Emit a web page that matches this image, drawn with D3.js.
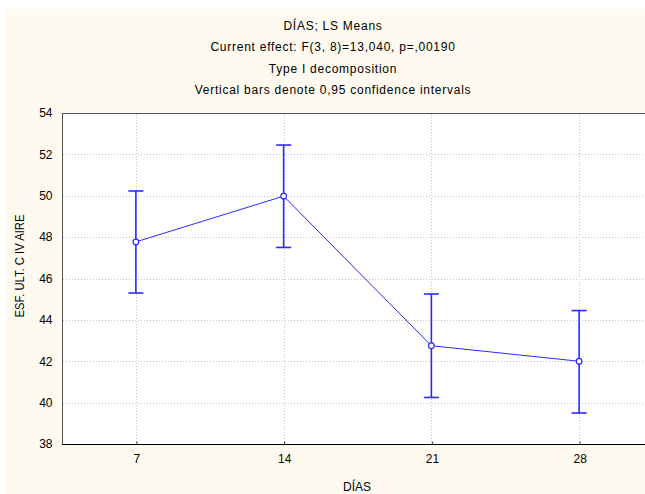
<!DOCTYPE html>
<html>
<head>
<meta charset="utf-8">
<script src="https://cdn.jsdelivr.net/npm/d3@7"></script>
<style>
  html, body { margin: 0; padding: 0; background: #ffffff; }
  svg { display: block; }
  text { font-family: "Liberation Sans", Arial, sans-serif; fill: #000; }
</style>
</head>
<body>
<script>
// LS means of ESF. ULT. C IV AIRE by day, with 0,95 confidence limits
const days = [7, 14, 21, 28];
const means = [47.77, 49.98, 42.75, 42.0];
const lower = [45.3, 47.5, 40.25, 39.5];
const upper = [50.23, 52.45, 45.25, 44.45];
const yTicks = [38, 40, 42, 44, 46, 48, 50, 52, 54];
const titleLines = [
  "DÍAS; LS Means",
  "Current effect: F(3, 8)=13,040, p=,00190",
  "Type I decomposition",
  "Vertical bars denote 0,95 confidence intervals"
];
const xTitle = "DÍAS";
const yTitle = "ESF. ULT. C IV AIRE";

const W = 645, H = 494;
const plot = { left: 62, top: 113, right: 653, bottom: 444 };

const svg = d3.select("body").append("svg")
  .attr("width", W).attr("height", H);

// page background
svg.append("rect").attr("x", 6).attr("y", 9)
  .attr("width", W - 6).attr("height", H - 9)
  .attr("fill", "#fffaef");

const x = d3.scaleLinear().domain([3.5, 31.5]).range([plot.left, plot.right]);
const y = d3.scaleLinear().domain([38, 54]).range([plot.bottom, plot.top]);

// plot area
svg.append("rect")
  .attr("x", plot.left).attr("y", plot.top)
  .attr("width", plot.right - plot.left).attr("height", plot.bottom - plot.top)
  .attr("fill", "#ffffff");

// grid
const grid = svg.append("g").attr("stroke", "#c4c4c4").attr("stroke-dasharray", "1,2").attr("stroke-width", 1);
grid.selectAll("line.h").data(yTicks.slice(1, -1)).join("line")
  .attr("x1", plot.left + 1).attr("x2", plot.right)
  .attr("y1", d => Math.round(y(d)) + 0.5).attr("y2", d => Math.round(y(d)) + 0.5);
grid.selectAll("line.v").data(days).join("line")
  .attr("x1", d => Math.round(x(d)) + 0.5).attr("x2", d => Math.round(x(d)) + 0.5)
  .attr("y1", plot.top + 1).attr("y2", plot.bottom);

// frame
svg.append("rect")
  .attr("x", plot.left + 0.5).attr("y", plot.top + 0.5)
  .attr("width", plot.right - plot.left).attr("height", plot.bottom - plot.top)
  .attr("fill", "none").attr("stroke", "#555555").attr("stroke-width", 1);

// axes
const xAxis = d3.axisBottom(x).tickValues(days).tickSize(-3).tickPadding(10).tickFormat(d3.format("d"));
const gx = svg.append("g").attr("transform", `translate(0.5,${plot.bottom + 0.5})`).call(xAxis);
gx.select(".domain").attr("stroke", "#000").attr("d", `M${plot.left},0H${plot.right}`);
gx.selectAll(".tick line").attr("stroke", "#333");
gx.selectAll(".tick text").attr("font-size", 12).attr("dy", "0.71em");

const yAxis = d3.axisLeft(y).tickValues(yTicks).tickSize(0).tickPadding(10).tickFormat(d3.format("d"));
const gy = svg.append("g").attr("transform", `translate(${plot.left + 0.5},0)`).call(yAxis);
gy.select(".domain").remove();
gy.selectAll(".tick text").attr("font-size", 12);

// axis titles
svg.append("text").attr("x", 357).attr("y", 491)
  .attr("text-anchor", "middle").attr("font-size", 12).text(xTitle);
svg.append("text").attr("transform", "translate(24,266) rotate(-90)")
  .attr("text-anchor", "middle").attr("font-size", 12)
  .attr("textLength", 103).attr("lengthAdjust", "spacingAndGlyphs").text(yTitle);

// titles
svg.append("g").selectAll("text").data(titleLines).join("text")
  .attr("x", 333).attr("y", (d, i) => 30 + i * 21.3)
  .attr("text-anchor", "middle").attr("font-size", 12)
  .attr("letter-spacing", 0.75).text(d => d);

// series
const blue = "#2a2aff";
const pts = days.map((d, i) => ({ day: d, m: means[i], lo: lower[i], hi: upper[i] }));

const bars = svg.append("g").attr("stroke", blue).attr("stroke-width", 1.6);
bars.selectAll("line.ci").data(pts).join("line")
  .attr("x1", d => x(d.day)).attr("x2", d => x(d.day))
  .attr("y1", d => y(d.lo)).attr("y2", d => y(d.hi));
bars.selectAll("line.capHi").data(pts).join("line")
  .attr("x1", d => x(d.day) - 7.5).attr("x2", d => x(d.day) + 7.5)
  .attr("y1", d => y(d.hi)).attr("y2", d => y(d.hi));
bars.selectAll("line.capLo").data(pts).join("line")
  .attr("x1", d => x(d.day) - 7.5).attr("x2", d => x(d.day) + 7.5)
  .attr("y1", d => y(d.lo)).attr("y2", d => y(d.lo));

svg.append("path").datum(pts)
  .attr("fill", "none").attr("stroke", blue).attr("stroke-width", 1)
  .attr("d", d3.line().x(d => x(d.day)).y(d => y(d.m)));

svg.append("g").selectAll("circle").data(pts).join("circle")
  .attr("cx", d => x(d.day)).attr("cy", d => y(d.m)).attr("r", 2.8)
  .attr("fill", "#fff").attr("stroke", blue).attr("stroke-width", 1.2);
</script>
</body>
</html>
